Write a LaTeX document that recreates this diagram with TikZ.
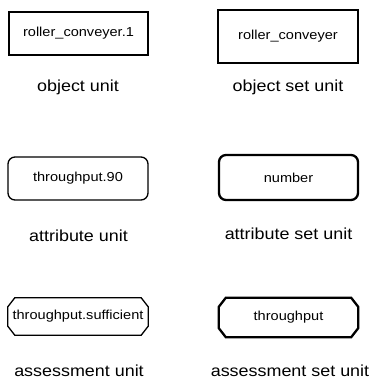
\documentclass[tikz,border=0pt]{standalone}
\usepackage{fontspec}
\newfontfamily\unitfont[FakeStretch=1.12]{Liberation Sans}
\usetikzlibrary{calc}
\begin{document}
\begin{tikzpicture}[x=1pt,y=-1pt,
  unittext/.style={font=\unitfont\fontsize{13}{15}\selectfont, inner sep=0pt},
  caption/.style={font=\unitfont\fontsize{16}{18}\selectfont, anchor=base, inner sep=0pt},
  single/.style={line width=1.3pt},
  setline/.style={line width=2.3pt},
  objbox/.style={unittext, draw, minimum width=#1},
  attrbox/.style={unittext, draw, rounded corners=7pt},
]
\useasboundingbox (0,0) rectangle (369,380);

% object units: plain rectangles
\node[objbox=139pt, single, minimum height=43pt] (ou) at (78.5,33.5) {roller\_conveyer.1};
\node[caption] (oulab) at (78,91) {object unit};
\node[objbox=140pt, setline, minimum height=53pt] (osu) at (288,36.5) {roller\_conveyer};
\node[caption] (osulab) at (288,91) {object set unit};

% attribute units: rounded rectangles
\node[attrbox, single, minimum width=140pt, minimum height=43pt] (au) at (78,178.5) {throughput.90};
\node[caption] (aulab) at (78.5,241) {attribute unit};
\node[attrbox, setline, minimum width=139pt, minimum height=45pt] (asu) at (288.5,177.5) {number};
\node[caption] (asulab) at (288.5,239) {attribute set unit};

% assessment units: chamfered rectangles drawn round empty-bordered nodes
\node[unittext, minimum width=140pt, minimum height=37pt] (su) at (78,316.5) {throughput.sufficient};
\draw[single, line join=miter]
  ($(su.north west)+(7,0)$) -- ($(su.north east)+(-7,0)$) -- ($(su.north east)+(0,9)$)
  -- ($(su.south east)+(0,-9)$) -- ($(su.south east)+(-7,0)$) -- ($(su.south west)+(7,0)$)
  -- ($(su.south west)+(0,-9)$) -- ($(su.north west)+(0,9)$) -- cycle;
\node[caption] (sulab) at (79,376.5) {assessment unit};

\node[unittext, minimum width=139pt, minimum height=39pt] (ssu) at (288.5,317.5) {throughput};
\draw[setline, line join=miter]
  ($(ssu.north west)+(7,0)$) -- ($(ssu.north east)+(-7,0)$) -- ($(ssu.north east)+(0,9)$)
  -- ($(ssu.south east)+(0,-9)$) -- ($(ssu.south east)+(-7,0)$) -- ($(ssu.south west)+(7,0)$)
  -- ($(ssu.south west)+(0,-9)$) -- ($(ssu.north west)+(0,9)$) -- cycle;
\node[caption] (ssulab) at (290,376.5) {assessment set unit};
\end{tikzpicture}
\end{document}
